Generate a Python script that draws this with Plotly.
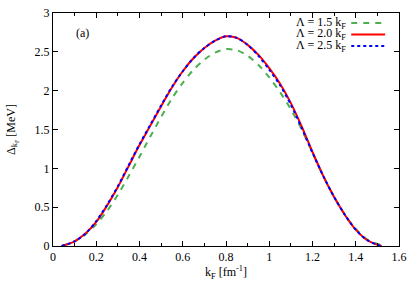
import plotly.graph_objects as go

kf_15 = [0.04, 0.1, 0.15, 0.2, 0.25, 0.3, 0.35, 0.4, 0.45, 0.5, 0.55, 0.6, 0.65, 0.7, 0.75, 0.8,
         0.85, 0.9, 0.95, 1.0, 1.05, 1.1, 1.15, 1.2, 1.25, 1.3, 1.35, 1.4, 1.45, 1.5, 1.54]
gap_15 = [0.0, 0.06, 0.15, 0.28, 0.45, 0.66, 0.90, 1.15, 1.41, 1.66, 1.90, 2.10, 2.27, 2.40, 2.49, 2.535,
          2.52, 2.45, 2.33, 2.17, 1.98, 1.76, 1.50, 1.20, 0.90, 0.63, 0.40, 0.22, 0.09, 0.025, 0.0]

kf_20 = [0.04, 0.1, 0.15, 0.2, 0.25, 0.3, 0.35, 0.4, 0.45, 0.5, 0.55, 0.6, 0.65, 0.7, 0.75, 0.8,
         0.85, 0.9, 0.95, 1.0, 1.05, 1.1, 1.15, 1.2, 1.25, 1.3, 1.35, 1.4, 1.45, 1.5, 1.52]
gap_20 = [0.0, 0.06, 0.16, 0.31, 0.52, 0.76, 1.03, 1.30, 1.55, 1.80, 2.04, 2.25, 2.42, 2.55, 2.645, 2.70,
          2.68, 2.59, 2.46, 2.29, 2.09, 1.84, 1.54, 1.21, 0.90, 0.63, 0.40, 0.21, 0.08, 0.015, 0.0]

kf_25 = [0.04, 0.1, 0.15, 0.2, 0.25, 0.3, 0.35, 0.4, 0.45, 0.5, 0.55, 0.6, 0.65, 0.7, 0.75, 0.8,
         0.85, 0.9, 0.95, 1.0, 1.05, 1.1, 1.15, 1.2, 1.25, 1.3, 1.35, 1.4, 1.45, 1.5, 1.52]
gap_25 = [0.0, 0.06, 0.16, 0.32, 0.53, 0.77, 1.04, 1.31, 1.56, 1.81, 2.05, 2.25, 2.42, 2.55, 2.645, 2.70,
          2.68, 2.59, 2.45, 2.27, 2.07, 1.82, 1.52, 1.20, 0.90, 0.63, 0.40, 0.21, 0.08, 0.015, 0.0]

labels = ["Λ = 1.5 k<sub>F</sub>", "Λ = 2.0 k<sub>F</sub>", "Λ = 2.5 k<sub>F</sub>"]
colors = ["#4caf50", "#ff0000", "#0000ff"]
dashes = ["6px,6px", "solid", "3px,3px"]

FONT = "Liberation Serif, Times New Roman, serif"

fig = go.Figure()
for x, y, c, d in zip([kf_15, kf_20, kf_25], [gap_15, gap_20, gap_25], colors, dashes):
    fig.add_trace(go.Scatter(x=x, y=y, mode="lines",
                             line=dict(color=c, dash=d, width=2, shape="spline", smoothing=0.8),
                             showlegend=False))

# custom legend (text left, sample right) like gnuplot
rows_y = [0.957, 0.908, 0.858]
for lab, c, d, yy in zip(labels, colors, dashes, rows_y):
    fig.add_annotation(xref="paper", yref="paper", x=0.852, y=yy, text=lab, showarrow=False,
                       xanchor="right", yanchor="middle", font=dict(family=FONT, size=12, color="black"))
    fig.add_shape(type="line", xref="paper", yref="paper", x0=0.862, x1=0.96, y0=yy, y1=yy,
                  line=dict(color=c, dash=d, width=2))

fig.add_annotation(xref="paper", yref="paper", x=0.084, y=0.914, text="(a)", showarrow=False,
                   xanchor="center", yanchor="middle", font=dict(family=FONT, size=12, color="black"))

axis_common = dict(showline=True, linecolor="black", linewidth=1, mirror="allticks", ticks="inside",
                   tickcolor="black", showgrid=False, zeroline=False, automargin=False,
                   ticklabeloverflow="allow",
                   tickfont=dict(family=FONT, size=12, color="black"))

fig.update_xaxes(range=[0, 1.6], dtick=0.2, ticklen=5,
                 minor=dict(dtick=0.1, ticks="inside", ticklen=3, tickcolor="black", showgrid=False),
                 title=dict(text="k<sub>F</sub> [fm<sup>-1</sup>]", font=dict(family=FONT, size=12, color="black"),
                            standoff=4),
                 **axis_common)
fig.update_yaxes(range=[0, 3], dtick=0.5, ticklen=5,
                 title=dict(text="Δ<sub>k<sub>F</sub></sub> [MeV]", font=dict(family=FONT, size=12, color="black"),
                            standoff=16),
                 **axis_common)

fig.update_layout(width=415, height=291, margin=dict(l=53, r=16, t=13, b=45),
                  plot_bgcolor="white", paper_bgcolor="white",
                  font=dict(family=FONT, size=12, color="black"))

fig.write_html("out.html", config={"displayModeBar": False},
               post_script="document.body.style.margin='0';")
